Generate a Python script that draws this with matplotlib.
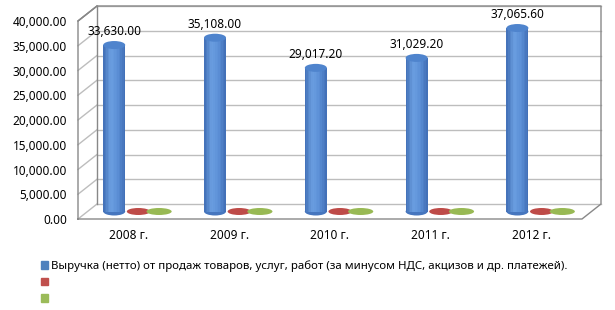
import matplotlib.pyplot as plt
import numpy as np
from matplotlib.patches import Ellipse, Patch
from matplotlib.colors import LinearSegmentedColormap

years = ['2008 г.', '2009 г.', '2010 г.', '2011 г.', '2012 г.']
revenue = [33630.00, 35108.00, 29017.20, 31029.20, 37065.60]
series2 = [0, 0, 0, 0, 0]
series3 = [0, 0, 0, 0, 0]
legend_labels = ['Выручка (нетто) от продаж товаров, услуг, работ (за минусом НДС, акцизов и др. платежей).',
                 '', '']
yticks = np.arange(0, 40001, 5000)

plt.rcParams['font.family'] = ['Noto Sans', 'DejaVu Sans']
FS = 8.5

W, H = 615, 310
fig = plt.figure(figsize=(W / 100, H / 100), dpi=100)

# axes = front plane of the 3d box
ax = fig.add_axes([78 / W, (H - 219) / H, 504 / W, 198 / H])
ax.set_xlim(-0.5, 4.5)
ax.set_ylim(0, 40000)
for s in ax.spines.values():
    s.set_visible(False)

# box depth in data units (about 19 px right, 15 px up)
DX = 19 / (504 / 5)
DY = 15 / (198 / 40000)

grid_c = '#BDBDBD'
edge_c = '#888888'

# back wall grid and left wall diagonals
for v in yticks:
    ax.plot([-0.5 + DX, 4.5 + DX], [v + DY, v + DY], color=grid_c, lw=1, clip_on=False, zorder=1)
    ax.plot([-0.5, -0.5 + DX], [v, v + DY], color=grid_c, lw=1, clip_on=False, zorder=1)

# box outline
ax.plot([-0.5, -0.5, -0.5 + DX, 4.5 + DX, 4.5 + DX, 4.5, -0.5],
        [0, 40000, 40000 + DY, 40000 + DY, DY, 0, 0],
        color=edge_c, lw=1, clip_on=False, zorder=2)
ax.plot([-0.5 + DX, -0.5 + DX], [DY, 40000 + DY], color=edge_c, lw=1, clip_on=False, zorder=2)
ax.plot([-0.5, -0.5 + DX], [40000, 40000 + DY], color=edge_c, lw=1, clip_on=False, zorder=2)

# bars sit in the middle of the depth
mx, my = DX / 2, DY / 2
x = np.arange(len(years))
bw = 22 / (504 / 5)
cap_h = 8 / (198 / 40000)
flat_h = 7 / (198 / 40000)

body_cmap = LinearSegmentedColormap.from_list('cyl', ['#4573BA', '#6A9EE0', '#5C90D7', '#4371B8'])
nstrip = 14
for i, v in enumerate(revenue):
    cx = x[i] - 0.235 + mx
    left = cx - bw / 2
    ax.add_patch(Ellipse((cx, my), bw, cap_h, color='#4676BE', zorder=3, lw=0))
    for k in range(nstrip):
        ax.bar(left + (k + 0.5) * bw / nstrip, v, width=bw / nstrip * 1.05, bottom=my,
               color=body_cmap(k / (nstrip - 1)), lw=0, zorder=4)
    ax.add_patch(Ellipse((cx, v + my), bw, cap_h, color='#4F84CD', zorder=5, lw=0))
    ax.annotate(f'{v:,.2f}', (cx, v + my), xytext=(0, 9.5), textcoords='offset points',
                ha='center', va='center', fontsize=FS, color='#000000', zorder=6)

for i in range(len(years)):
    ax.add_patch(Ellipse((x[i] + 0.005 + mx, series2[i] + my), 0.23, flat_h,
                         color='#BE4B48', zorder=3, lw=0))
    ax.add_patch(Ellipse((x[i] + 0.21 + mx, series3[i] + my), 0.25, flat_h,
                         color='#98B954', zorder=3, lw=0))

ax.set_yticks(yticks)
ax.set_yticklabels([f'{t:,.2f}' for t in yticks], fontsize=FS)
ax.set_xticks(x)
ax.set_xticklabels(years, fontsize=FS)
ax.tick_params(axis='y', length=0, pad=8)
ax.tick_params(axis='x', length=0, pad=7)

handles = [Patch(color='#4F81BD'), Patch(color='#C0504D'), Patch(color='#9BBB59')]
fig.legend(handles, legend_labels, loc='upper left', bbox_to_anchor=(41 / W, 1 - 260 / H),
           frameon=False, fontsize=8.25, handlelength=0.65, handleheight=0.65,
           handletextpad=0.25, labelspacing=0.5, borderpad=0, borderaxespad=0)

fig.savefig('out.png', dpi=100)
